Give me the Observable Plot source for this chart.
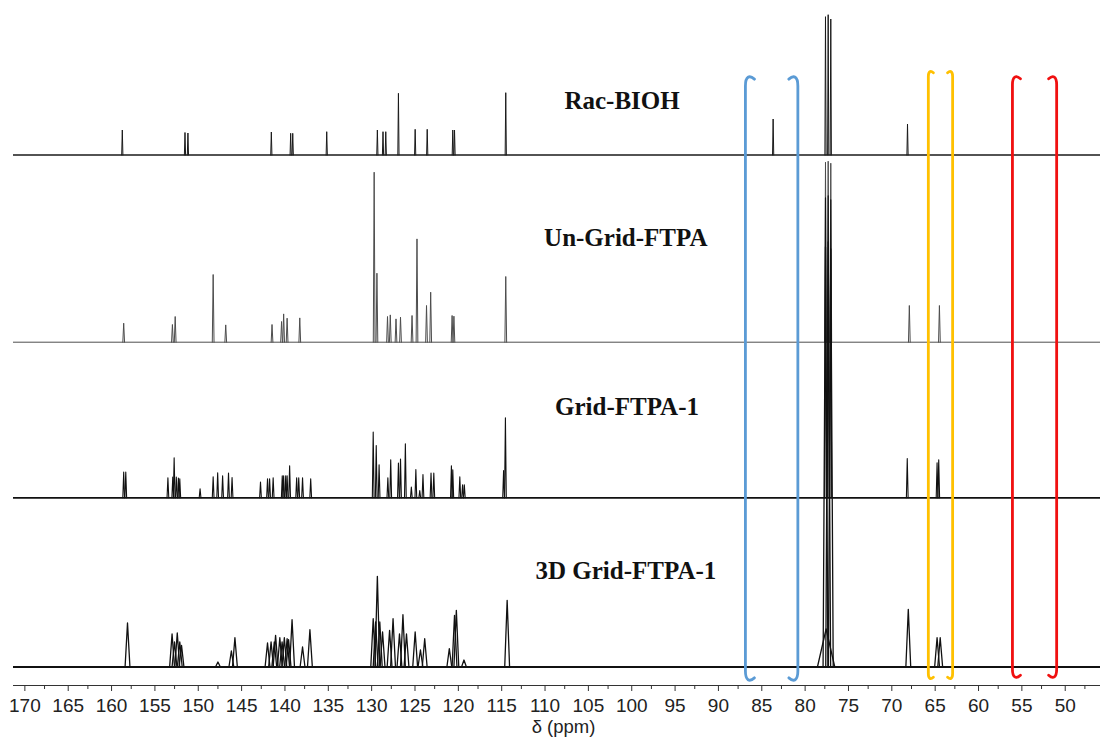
<!DOCTYPE html>
<html>
<head>
<meta charset="utf-8">
<script src="https://cdn.jsdelivr.net/npm/d3@7"></script>
<script src="https://cdn.jsdelivr.net/npm/@observablehq/plot@0.6"></script>
<style>
  html, body { margin: 0; padding: 0; background: #fff; }
  #chart { width: 1100px; height: 737px; }
</style>
</head>
<body>
<div id="chart"></div>
<script>
// 13C NMR spectra (CDCl3): chemical shift (ppm), peak intensity (arbitrary units)
const spectrumNames = ["Rac-BIOH", "Un-Grid-FTPA", "Grid-FTPA-1", "3D Grid-FTPA-1"];

const racBIOH = [
  [158.53, 25], [151.30, 22.5], [150.96, 22], [141.34, 23], [139.11, 21.7], [138.87, 21.7],
  [134.95, 23.3], [129.11, 25], [128.46, 23.3], [128.14, 23.3], [126.68, 61.7], [124.75, 25.7],
  [123.36, 25.7], [120.41, 25], [120.21, 25], [114.30, 62.3], [83.46, 36],
  [77.42, 138.3], [77.11, 140.3], [76.81, 136], [67.96, 31]
];

const unGridFTPA = [
  [158.37, 19], [152.75, 17.7], [152.43, 25.7], [148.05, 67.7], [146.60, 17.3], [141.26, 17.7],
  [140.16, 20.7], [139.92, 28.3], [139.52, 24], [138.06, 24.3], [129.48, 170], [129.16, 69],
  [127.94, 25.7], [127.62, 27.3], [126.96, 23.3], [126.44, 25], [125.11, 26.7], [124.54, 103.3],
  [123.44, 36.7], [122.96, 50], [120.49, 26.7], [120.28, 26], [114.30, 65.7],
  [77.42, 180], [77.11, 181], [76.81, 179], [67.75, 36.7], [64.28, 36.7]
];

const gridFTPA1 = [
  [158.37, 25.7], [158.13, 25.7], [153.27, 20], [152.71, 20.7], [152.55, 40], [152.30, 20.7],
  [152.06, 19.7], [151.90, 19], [149.56, 9], [148.05, 21], [147.53, 25], [146.96, 22],
  [146.28, 24.7], [145.87, 20.3], [142.59, 15.7], [141.78, 19], [141.54, 19], [141.13, 20],
  [140.08, 22], [139.92, 22], [139.68, 22], [139.52, 22], [139.23, 32], [138.42, 20],
  [138.18, 20], [137.74, 20], [136.80, 19], [129.59, 65.7], [129.24, 52.3], [128.91, 33],
  [127.90, 20], [127.57, 38], [126.68, 34.7], [126.44, 38.7], [125.88, 54], [125.19, 10.7],
  [124.67, 28.3], [124.22, 7.3], [123.85, 23.3], [122.92, 24.7], [122.60, 24.7],
  [120.57, 32], [120.41, 28], [119.60, 21], [119.28, 13], [119.08, 13], [114.55, 27.3],
  [114.34, 80], [77.42, 300], [77.11, 302], [76.81, 298], [67.99, 39.3], [64.55, 35], [64.36, 38]
];

const grid3DFTPA1 = [
  [157.93, 44], [152.79, 33], [152.51, 25], [152.19, 34], [151.90, 25], [151.70, 21.7],
  [147.5, 5], [145.95, 16], [145.54, 29.3], [141.78, 24], [141.37, 25], [141.0, 25],
  [140.85, 31.7], [140.36, 29.3], [140.1, 25], [139.84, 29.3], [139.52, 28.3], [139.35, 27.3],
  [138.95, 47.3], [137.74, 20], [136.89, 37.3], [129.59, 48.3], [129.31, 45], [129.11, 90.7],
  [128.83, 45], [128.51, 35], [127.70, 36.7], [127.30, 48.3], [126.56, 33], [126.16, 52.3],
  [125.75, 33], [124.75, 35], [124.14, 17], [123.65, 28.3], [120.81, 18.3], [120.21, 51.7],
  [120.00, 56.7], [119.12, 7], [114.14, 66.7], [77.42, 420], [77.11, 425], [76.81, 418],
  [67.87, 57.7], [64.55, 29.3], [64.19, 29.3]
];
// broad solvent hump under the CDCl3 triplet: ppm, intensity, half-width (ppm)
const grid3DBroad = [[77.35, 38, 1.0]];

// highlighted shift windows (ppm)
const regions = [[86.6, 80.55], [65.5, 62.7], [55.8, 50.7]];

const majorTicks = d3.range(50, 171, 5);
const minorTicks = d3.range(47.5, 171, 5);

// ---- layout & styles ----
const stack = [
  {peaks: racBIOH,     offset: 530.5, half: 0.07, stroke: "#1a1a1a", width: 1.0, base: 1.3},
  {peaks: unGridFTPA,  offset: 343.3, half: 0.10, stroke: "#4d4d4d", width: 1.0, base: 1.0},
  {peaks: gridFTPA1,   offset: 187.7, half: 0.10, stroke: "#111",    width: 1.1, base: 1.8},
  {peaks: grid3DFTPA1, offset: 18.5,  half: 0.28, stroke: "#111",    width: 1.3, base: 2.0, broad: grid3DBroad}
];
const labelAt = [[107.53, 585], [109.88, 448], [108.62, 279], [110.87, 115]];
const regionStyle = [
  {color: "#5b9bd5", hook: 9, top: 76, bottom: 681},
  {color: "#ffc000", hook: 5, top: 71, bottom: 679},
  {color: "#f01010", hook: 8, top: 76, bottom: 678}
];

// each peak drawn as a narrow triangle standing on its spectrum's baseline
function peakRows(s, si) {
  const rows = [];
  const add = (p, j, half) => {
    const [ppm, h] = p;
    const key = si + "-" + j;
    rows.push({key, x: ppm + half, y: s.offset});
    rows.push({key, x: ppm, y: s.offset + h});
    rows.push({key, x: ppm - half, y: s.offset});
  };
  s.peaks.forEach((p, j) => add(p, j, s.half));
  (s.broad || []).forEach((p, j) => add(p, "b" + j, p[2]));
  return rows;
}

function bracketPath(x, dir, top, bottom, h) {
  const p = d3.path();
  p.moveTo(x + dir * h, top + h * 0.35);
  p.bezierCurveTo(x + dir * h * 0.45, top - h * 0.15, x, top + h * 0.05, x, top + h * 1.1);
  p.lineTo(x, bottom - h * 1.1);
  p.bezierCurveTo(x, bottom - h * 0.05, x + dir * h * 0.45, bottom + h * 0.15, x + dir * h, bottom - h * 0.35);
  return p.toString();
}

function brackets(index, scales) {
  const g = d3.create("svg:g").attr("fill", "none").attr("stroke-width", 2.8).attr("stroke-linecap", "round");
  regions.forEach(([from, to], i) => {
    const st = regionStyle[i];
    const xl = scales.x(from), xr = scales.x(to);
    g.append("path").attr("stroke", st.color).attr("d", bracketPath(xl, 1, st.top, st.bottom, st.hook));
    g.append("path").attr("stroke", st.color).attr("d", bracketPath(xr, -1, st.top, st.bottom, st.hook));
  });
  return g.node();
}

const marks = [];
stack.forEach((s, si) => {
  marks.push(Plot.ruleY([s.offset], {stroke: s.stroke, strokeWidth: s.base}));
  marks.push(Plot.line(peakRows(s, si), {x: "x", y: "y", z: "key", stroke: s.stroke, strokeWidth: s.width}));
});
marks.push(Plot.text(spectrumNames, {
  x: (d, i) => labelAt[i][0], y: (d, i) => labelAt[i][1], text: d => d,
  textAnchor: "start", fontFamily: "'Liberation Serif', 'Times New Roman', serif",
  fontWeight: "bold", fontSize: 25, fill: "#111"
}));
marks.push(brackets);
marks.push(Plot.ruleY([0], {stroke: "#333", strokeWidth: 1.2}));
marks.push(Plot.axisX({ticks: minorTicks, tickSize: 4, tickFormat: () => "", label: null, stroke: "#333"}));
marks.push(Plot.axisX({ticks: majorTicks, tickSize: 6, tickPadding: 7, tickFormat: d => String(d),
  label: null, fontSize: 19, dx: 2, stroke: "#333", fill: "#222"}));
marks.push(Plot.text(["δ (ppm)"], {frameAnchor: "bottom", lineAnchor: "middle", dy: 42, dx: 6.5, fontSize: 18.5, fill: "#222"}));

const chart = Plot.plot({
  width: 1100,
  height: 737,
  marginLeft: 13,
  marginRight: 0,
  marginTop: 0,
  marginBottom: 52,
  style: {fontFamily: "'Liberation Sans', Arial, sans-serif", background: "#fff", overflow: "visible"},
  x: {domain: [171.08, 45.7], label: null},
  y: {domain: [0, 685], axis: null},
  marks
});
document.getElementById("chart").appendChild(chart);
</script>
</body>
</html>
